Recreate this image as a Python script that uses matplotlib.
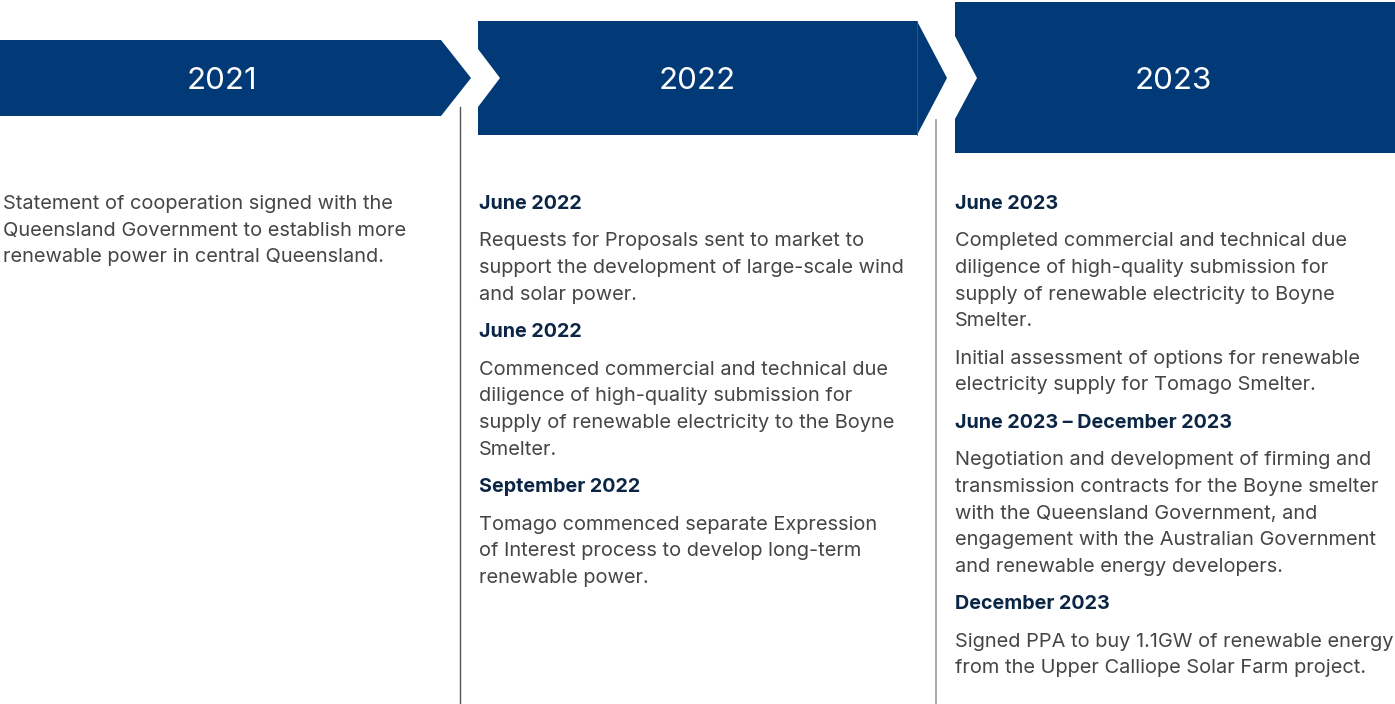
import matplotlib
matplotlib.use("Agg")
import matplotlib.pyplot as plt
from matplotlib.patches import Polygon
from matplotlib.lines import Line2D

# ---------------- data ----------------
years = ["2021", "2022", "2023"]

col1_items = [
    (None, ["Statement of cooperation signed with the",
            "Queensland Government to establish more",
            "renewable power in central Queensland."]),
]
col2_items = [
    ("June 2022", ["Requests for Proposals sent to market to",
                   "support the development of large-scale wind",
                   "and solar power."]),
    ("June 2022", ["Commenced commercial and technical due",
                   "diligence of high-quality submission for",
                   "supply of renewable electricity to the Boyne",
                   "Smelter."]),
    ("September 2022", ["Tomago commenced separate Expression",
                        "of Interest process to develop long-term",
                        "renewable power."]),
]
col3_items = [
    ("June 2023", ["Completed commercial and technical due",
                   "diligence of high-quality submission for",
                   "supply of renewable electricity to Boyne",
                   "Smelter."]),
    (None, ["Initial assessment of options for renewable",
            "electricity supply for Tomago Smelter."]),
    ("June 2023 \u2013 December 2023", ["Negotiation and development of firming and",
                                       "transmission contracts for the Boyne smelter",
                                       "with the Queensland Government, and",
                                       "engagement with the Australian Government",
                                       "and renewable energy developers."]),
    ("December 2023", ["Signed PPA to buy 1.1GW of renewable energy",
                       "from the Upper Calliope Solar Farm project."]),
]
columns = [col1_items, col2_items, col3_items]

# ---------------- style ----------------
NAVY = "#023a77"
HEAD = "#0b2545"
BODY = "#454545"
FONT = "Inter"

W, H = 1395, 704
fig = plt.figure(figsize=(W / 100, H / 100), dpi=100)
ax = fig.add_axes([0, 0, 1, 1])
ax.set_xlim(0, W)
ax.set_ylim(H, 0)
ax.axis("off")

# banners (pixel geometry of the layout)
b1 = [(0, 40), (441, 40), (471, 78), (441, 116), (0, 116)]
b2 = [(478, 21), (917, 21), (947, 78), (917, 135), (478, 135),
      (478, 107), (500, 78), (478, 49)]
b3 = [(955, 2), (W, 2), (W, 153), (955, 153), (955, 119), (977, 78), (955, 36)]
for pts in (b1, b2, b3):
    ax.add_patch(Polygon(pts, closed=True, facecolor=NAVY, edgecolor="none"))
ax.add_line(Line2D([917, 917], [21, 135], color="#2a5a90", lw=0.6))

year_x = [222, 697, 1173]
for yx, yr in zip(year_x, years):
    ax.text(yx, 89, yr, color="white", fontsize=22.5, family=FONT,
            ha="center", va="baseline")

# separators
ax.add_line(Line2D([459.5, 459.5], [107, H], color="#555555", lw=1.0))
ax.add_line(Line2D([936, 936], [120, H], color="#9a9a9a", lw=1.2))

# text columns
col_x = [3, 479, 955]
LINE = 26.6
GAP = 37.5
BASE = 7.0
for cx, items in zip(col_x, columns):
    y = 202
    first = True
    for head, lines in items:
        if not first:
            y += GAP
        first = False
        if head:
            ax.text(cx, y + BASE, head, color=HEAD, fontsize=14.2, family=FONT,
                    fontweight="bold", ha="left", va="baseline")
            y += GAP
        for i, ln in enumerate(lines):
            if i > 0:
                y += LINE
            ax.text(cx, y + BASE, ln, color=BODY, fontsize=14.4, family=FONT,
                    ha="left", va="baseline")

fig.savefig("out.png", dpi=100, facecolor="white")
